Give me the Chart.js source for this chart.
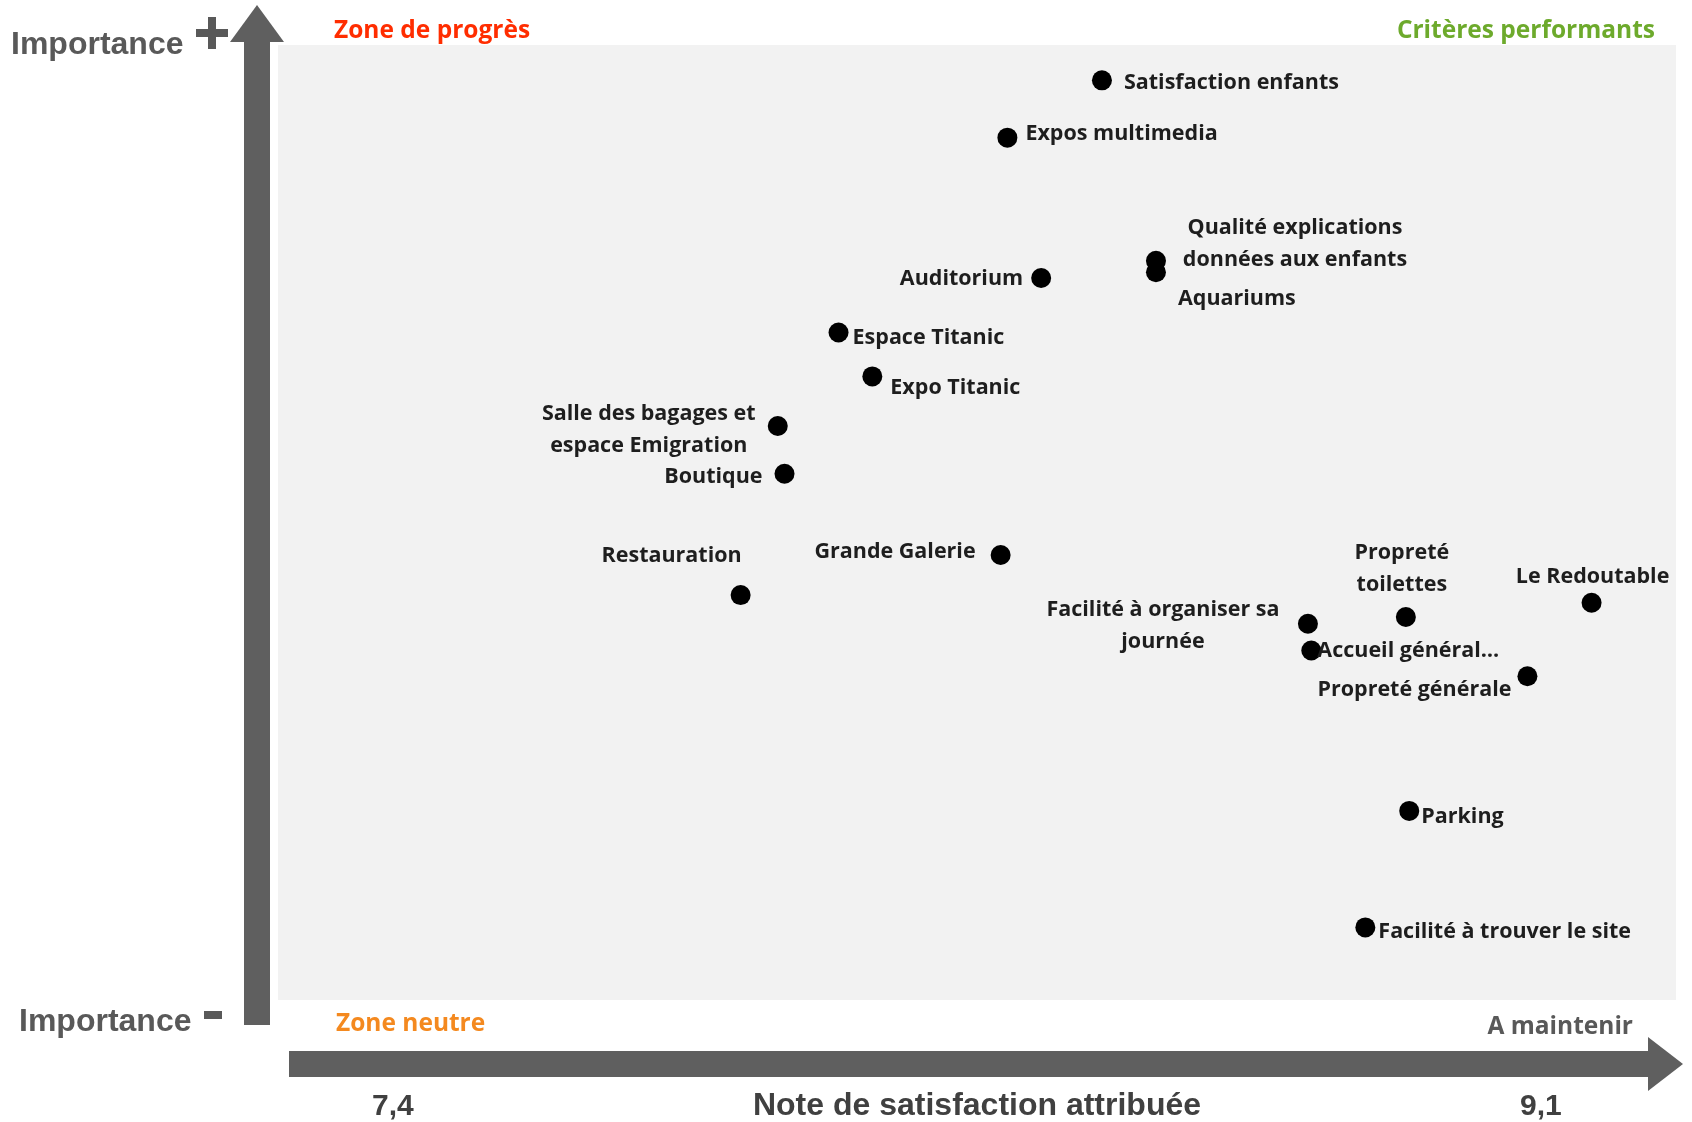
<!DOCTYPE html>
<html>
<head>
<meta charset="utf-8">
<script src="https://cdn.jsdelivr.net/npm/chart.js@4.4.1/dist/chart.umd.min.js"></script>
<style>
  html, body { margin: 0; padding: 0; background: #fff; }
  #wrap { width: 1692px; height: 1122px; }
</style>
</head>
<body>
<div id="wrap"><canvas id="matrice"></canvas></div>
<script>
// critères évalués (\n = retour à la ligne dans l'étiquette)
const criteres = [
  'Satisfaction enfants',
  'Expos multimedia',
  'Qualité explications\ndonnées aux enfants',
  'Aquariums',
  'Auditorium',
  'Espace Titanic',
  'Expo Titanic',
  'Salle des bagages et\nespace Emigration',
  'Boutique',
  'Grande Galerie',
  'Restauration',
  'Facilité à organiser sa\njournée',
  'Propreté\ntoilettes',
  'Le Redoutable',
  'Accueil général…',
  'Propreté générale',
  'Parking',
  'Facilité à trouver le site'
];
// note de satisfaction attribuée
const notes = [8.45, 8.31, 8.53, 8.53, 8.36, 8.06, 8.11, 7.97, 7.98, 8.30, 7.915, 8.755, 8.90, 9.175, 8.76, 9.08, 8.905, 8.84];
// importance (échelle relative)
const importance = [96.3, 90.3, 77.4, 76.2, 75.6, 69.9, 65.3, 60.1, 55.1, 46.6, 42.4, 39.4, 40.1, 41.6, 36.6, 33.9, 19.8, 7.6];
// graduations affichées sous la flèche
const xTicks = [7.4, 9.1];

// placement des étiquettes : [dx, dy, alignement]
const placement = [
  [22, 3, 'left'], [18, -4, 'left'], [139, -17, 'center'], [22, 27, 'left'],
  [-18, 1, 'right'], [14, 5, 'left'], [18, 11, 'left'], [-129, 4, 'center'],
  [-22, 3, 'right'], [-25, -3, 'right'], [-69, -39, 'center'], [-145, 2, 'center'],
  [-4, -48, 'center'], [1, -26, 'center'], [6, 0, 'left'], [-16, 14, 'right'],
  [12, 6, 'left'], [13, 4, 'left']
];

const GRIS = '#5f5f5f';
const labelFont = 'bold 21.5px "Open Sans", Lato, sans-serif';
const zoneFont = 'bold 24.5px "Open Sans", Lato, sans-serif';
const arialB = (s) => 'bold ' + s + 'px "Liberation Sans", Arial, sans-serif';

const decor = {
  id: 'decor',
  beforeDraw(chart) {
    const { ctx, chartArea: a } = chart;
    ctx.save();
    ctx.fillStyle = '#f2f2f2';
    ctx.fillRect(a.left, a.top, a.right - a.left, a.bottom - a.top);
    ctx.restore();
  },
  afterDraw(chart) {
    const { ctx, chartArea: a } = chart;
    ctx.save();
    ctx.fillStyle = GRIS;

    // flèche verticale
    ctx.fillRect(244, 40, 26, 985);
    ctx.beginPath();
    ctx.moveTo(257, 5); ctx.lineTo(284, 42); ctx.lineTo(230, 42); ctx.closePath();
    ctx.fill();

    // flèche horizontale
    ctx.fillRect(289, 1051, 1362, 26);
    ctx.beginPath();
    ctx.moveTo(1683, 1064); ctx.lineTo(1648, 1037); ctx.lineTo(1648, 1091); ctx.closePath();
    ctx.fill();

    // + et -
    ctx.fillStyle = '#595959';
    ctx.fillRect(196, 29, 32, 8);
    ctx.fillRect(208, 17, 8, 32);
    ctx.fillRect(204, 1011, 18, 8);

    ctx.textBaseline = 'middle';
    ctx.font = arialB(32);
    ctx.textAlign = 'left';
    ctx.fillText('Importance', 11, 45);
    ctx.fillText('Importance', 19, 1022);

    // zones
    ctx.font = zoneFont;
    ctx.fillStyle = '#ff2d00';
    ctx.fillText('Zone de progrès', 334, 31);
    ctx.fillStyle = '#f4891f';
    ctx.fillText('Zone neutre', 336, 1024);
    ctx.textAlign = 'right';
    ctx.fillStyle = '#6daa2c';
    ctx.fillText('Critères performants', 1655, 31);
    ctx.fillStyle = '#595959';
    ctx.fillText('A maintenir', 1633, 1027);

    // titre de l'axe
    ctx.font = arialB(32);
    ctx.fillStyle = '#404040';
    ctx.textAlign = 'center';
    ctx.fillText('Note de satisfaction attribuée', (a.left + a.right) / 2, 1106);

    // étiquettes des points
    const pts = chart.getDatasetMeta(0).data;
    ctx.font = labelFont;
    ctx.fillStyle = '#1e1e1e';
    criteres.forEach((txt, i) => {
      const p = pts[i];
      const [dx, dy, align] = placement[i];
      const lines = txt.split('\n');
      const lh = 32;
      ctx.textAlign = align;
      lines.forEach((l, k) => {
        ctx.fillText(l, p.x + dx, p.y + dy + (k - (lines.length - 1) / 2) * lh);
      });
    });
    ctx.restore();
  }
};

new Chart(document.getElementById('matrice'), {
  type: 'scatter',
  data: {
    datasets: [{
      data: notes.map((n, i) => ({ x: n, y: importance[i] })),
      backgroundColor: '#000',
      borderWidth: 0,
      pointRadius: 10,
      pointHoverRadius: 10
    }]
  },
  options: {
    responsive: true,
    maintainAspectRatio: false,
    animation: false,
    locale: 'fr-FR',
    layout: { padding: { left: 278, right: 16, top: 45, bottom: 0 } },
    plugins: { legend: { display: false }, tooltip: { enabled: false } },
    scales: {
      x: {
        min: 7.23, max: 9.3,
        grid: { display: false },
        border: { display: false },
        afterBuildTicks: (s) => { s.ticks = xTicks.map(v => ({ value: v })); },
        afterFit: (s) => { s.height = 122; },
        ticks: {
          padding: 81,
          maxRotation: 0,
          autoSkip: false,
          color: '#404040',
          font: { family: '"Liberation Sans", Arial, sans-serif', size: 30, weight: 'bold' },
          callback: (v) => Number(v).toFixed(1).replace('.', ',')
        }
      },
      y: { min: 0, max: 100, display: false }
    }
  },
  plugins: [decor]
});
</script>
</body>
</html>
